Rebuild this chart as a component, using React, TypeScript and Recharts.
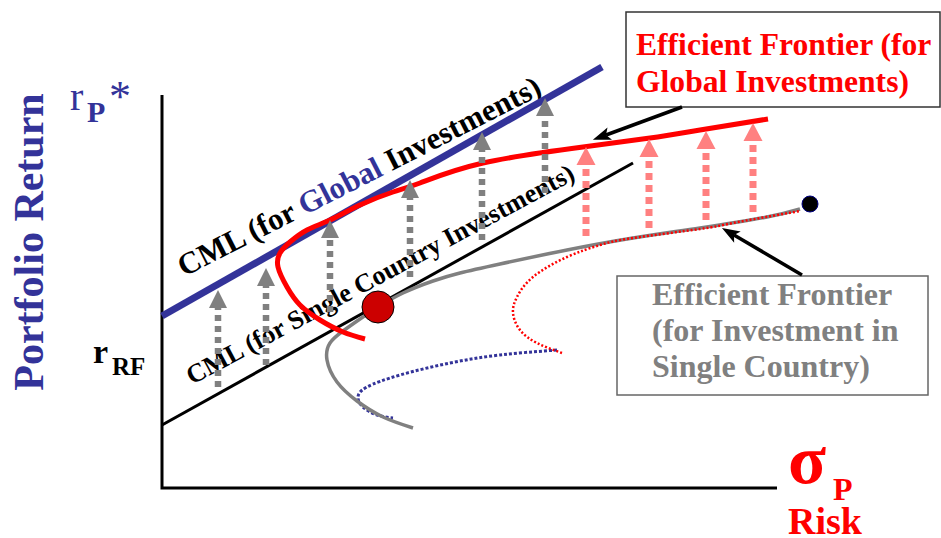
import React from 'react';
import { ComposedChart, Line, XAxis, YAxis, ReferenceDot } from 'recharts';

const W = 941;
const H = 538;
// 10 px per unit, origin in the corner of the axes
const xDomain = [-16.2, 77.9];
const yDomain = [-5, 48.8];

const axesX = [0, 0, 61.5];
const axesY = [39.3, 0, 0];

const cmlGlobalX = [0, 44.0];
const cmlGlobalY = [17.2, 42.1];
const cmlSingleX = [0, 47.1];
const cmlSingleY = [6.3, 32.5];

const globalFrontierX = [20.3, 18.1, 15.8, 13.8, 12.5, 11.6, 11.8, 12.8, 14.5, 16.8, 19.8, 23.1, 25.8, 32.1, 42.1, 48.8, 53.8, 60.6];
const globalFrontierY = [14.9, 15.6, 16.8, 18.3, 20.1, 22.1, 23.5, 24.6, 25.8, 26.8, 28.3, 29.6, 30.5, 32.5, 34.1, 35.0, 35.8, 36.9];

const singleFrontierX = [25.1, 22.1, 19.5, 17.5, 16.5, 16.8, 18.1, 19.8, 21.6, 24.1, 27.1, 29.8, 33.8, 40.5, 47.1, 53.8, 60.5, 63.8];
const singleFrontierY = [6.0, 7.1, 8.7, 10.6, 12.8, 14.5, 15.7, 16.9, 18.1, 19.5, 20.7, 21.5, 22.4, 23.8, 25.0, 26.0, 27.1, 27.9];

const redDottedX = [40.0, 37.5, 35.8, 35.1, 35.5, 37.1, 40.5, 43.8, 47.1, 53.8, 57.1, 63.8];
const redDottedY = [13.5, 14.5, 15.8, 17.5, 19.1, 21.1, 23.1, 24.3, 25.0, 25.9, 26.5, 27.7];

const blueDottedX = [39.5, 33.8, 28.8, 23.8, 20.5, 19.6, 20.1, 21.5, 23.1];
const blueDottedY = [13.8, 13.3, 12.5, 11.3, 10.1, 9.1, 8.1, 7.3, 7.0];

const grayArrowX = [5.6, 10.4, 16.8, 24.8, 32.0, 38.3];
const grayArrowFrom = [10.1, 12.3, 17.6, 21.1, 24.8, 29.5];
const grayArrowTo = [18.0, 20.2, 25.0, 29.0, 33.8, 37.2];

const pinkArrowX = [42.4, 48.7, 54.4, 59.1];
const pinkArrowFrom = [25.2, 26.0, 26.8, 27.6];
const pinkArrowTo = [32.3, 33.1, 33.9, 34.7];

const pointerFromX = [52.0, 64.0];
const pointerFromY = [38.1, 21.3];
const pointerToX = [44.4, 57.2];
const pointerToY = [35.3, 25.3];

const tangency = { x: 21.6, y: 18.1 };
const frontierEnd = { x: 64.8, y: 28.4 };

const pts = (xs: number[], ys: number[]) => xs.map((x, i) => ({ x, y: ys[i] }));

const SERIF = "'Liberation Serif', 'Times New Roman', serif";
const BLUE = '#333399';
const RED = '#ff0000';
const GRAY = '#808080';
const PINK = '#ff8080';

// arrow head drawn at the last point of a two point line, pointing along it
const arrowHead = (dx: number, dy: number, len: number, half: number, color: string, notch = 0) =>
  (props: any) => {
    const { cx, cy, index } = props;
    if (index !== 1 || cx == null) return <g key={`n${index}`} />;
    const m = Math.hypot(dx, dy);
    const ux = dx / m;
    const uy = -dy / m;
    const bx = cx - ux * notch;
    const by = cy - uy * notch;
    const p = [
      [cx + ux * len, cy + uy * len],
      [bx - uy * half, by + ux * half],
      [cx, cy],
      [bx + uy * half, by - ux * half],
    ];
    return <polygon key="head" points={p.map((q) => q.join(',')).join(' ')} fill={color} />;
  };

export default function App() {
  return (
    <div style={{ position: 'absolute', left: 0, top: 0, width: W, height: H, background: '#fff' }}>
      <ComposedChart width={W} height={H} margin={{ top: 0, right: 0, bottom: 0, left: 0 }}>
        <XAxis type="number" dataKey="x" domain={xDomain} allowDataOverflow hide />
        <YAxis type="number" domain={yDomain} allowDataOverflow hide />

        {/* axes */}
        <Line data={pts(axesX, axesY)} dataKey="y" type="linear" stroke="#000" strokeWidth={3}
          dot={false} activeDot={false} isAnimationActive={false} />

        {/* capital market lines */}
        <Line data={pts(cmlSingleX, cmlSingleY)} dataKey="y" type="linear" stroke="#000" strokeWidth={3}
          dot={false} activeDot={false} isAnimationActive={false} />
        <Line data={pts(cmlGlobalX, cmlGlobalY)} dataKey="y" type="linear" stroke={BLUE} strokeWidth={7}
          dot={false} activeDot={false} isAnimationActive={false} />

        {/* frontiers */}
        <Line data={pts(blueDottedX, blueDottedY)} dataKey="y" type="natural" stroke={BLUE} strokeWidth={3}
          strokeDasharray="3 2" dot={false} activeDot={false} isAnimationActive={false} />
        <Line data={pts(singleFrontierX, singleFrontierY)} dataKey="y" type="natural" stroke={GRAY} strokeWidth={3.5}
          dot={false} activeDot={false} isAnimationActive={false} />
        <Line data={pts(redDottedX, redDottedY)} dataKey="y" type="natural" stroke={RED} strokeWidth={2.5}
          strokeDasharray="2 2" dot={false} activeDot={false} isAnimationActive={false} />
        <Line data={pts(globalFrontierX, globalFrontierY)} dataKey="y" type="natural" stroke={RED} strokeWidth={5}
          dot={false} activeDot={false} isAnimationActive={false} />

        {/* gains from diversification */}
        {grayArrowX.map((x, i) => (
          <Line key={`g${i}`} data={[{ x, y: grayArrowFrom[i] }, { x, y: grayArrowTo[i] }]} dataKey="y"
            type="linear" stroke={GRAY} strokeWidth={6.5} strokeDasharray="6 5"
            dot={arrowHead(0, 1, 18, 9, GRAY)} activeDot={false} isAnimationActive={false} />
        ))}
        {pinkArrowX.map((x, i) => (
          <Line key={`p${i}`} data={[{ x, y: pinkArrowFrom[i] }, { x, y: pinkArrowTo[i] }]} dataKey="y"
            type="linear" stroke={PINK} strokeWidth={7} strokeDasharray="7 5"
            dot={arrowHead(0, 1, 18, 9.5, PINK)} activeDot={false} isAnimationActive={false} />
        ))}
        {pointerFromX.map((x, i) => (
          <Line key={`b${i}`} data={[{ x, y: pointerFromY[i] }, { x: pointerToX[i], y: pointerToY[i] }]} dataKey="y"
            type="linear" stroke="#000" strokeWidth={3.5}
            dot={arrowHead(pointerToX[i] - x, pointerToY[i] - pointerFromY[i], 14, 6.5, '#000', 4)}
            activeDot={false} isAnimationActive={false} />
        ))}

        <ReferenceDot x={tangency.x} y={tangency.y} r={16} fill="#cc0000" stroke="#000" strokeWidth={1} />
        <ReferenceDot x={frontierEnd.x} y={frontierEnd.y} r={8} fill="#000" stroke="#000080" strokeWidth={1} />

        {/* labels */}
        <g fontFamily={SERIF} fontWeight="bold">
          <text x={43} y={242} fontSize={42} fill={BLUE} textAnchor="middle" transform="rotate(-90 43 242)">
            Portfolio Return
          </text>
          <text x={70} y={110} fontSize={40} fill={BLUE} fontWeight="normal">r</text>
          <text x={87} y={122} fontSize={30} fill={BLUE}>P</text>
          <text x={109} y={111} fontSize={44} fill={BLUE} fontWeight="normal">*</text>

          <text x={93} y={363} fontSize={34} fill="#000">r</text>
          <text x={112} y={375} fontSize={25} fill="#000">RF</text>

          <text x={788} y={483} fontSize={70} fill={RED}>σ</text>
          <text x={833} y={500} fontSize={32} fill={RED}>P</text>
          <text x={788} y={534} fontSize={38} fill={RED}>Risk</text>

          <text x={184} y={277} fontSize={31} fill="#000" transform="rotate(-27 184 277)">
            CML (for <tspan fill={BLUE}>Global</tspan> Investments)
          </text>
          <text x={192} y={385} fontSize={26.3} fill="#000" transform="rotate(-28.2 192 385)">
            CML (for Single Country Investments)
          </text>

          <rect x={626} y={12} width={314} height={95} fill="#fff" stroke="#333" strokeWidth={1.5} />
          <text x={636} y={55} fontSize={31.6} fill={RED}>Efficient Frontier (for</text>
          <text x={636} y={92} fontSize={31.6} fill={RED}>Global Investments)</text>

          <rect x={617} y={276} width={311} height={119} fill="#fff" stroke="#666" strokeWidth={1.5} />
          <text x={652} y={305} fontSize={32} fill={GRAY}>Efficient Frontier</text>
          <text x={652} y={341} fontSize={32} fill={GRAY}>(for Investment in</text>
          <text x={652} y={377} fontSize={32} fill={GRAY}>Single Country)</text>
        </g>
      </ComposedChart>
    </div>
  );
}
